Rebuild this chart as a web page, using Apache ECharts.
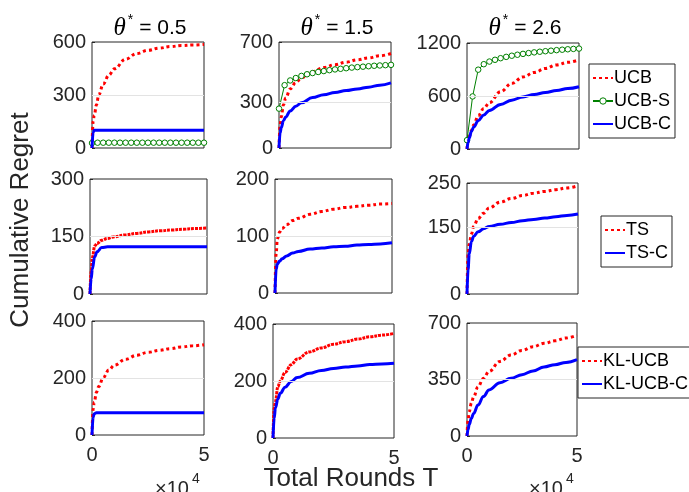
<!DOCTYPE html>
<html><head><meta charset="utf-8">
<script src="https://cdn.jsdelivr.net/npm/echarts@6/dist/echarts.min.js"></script>
<style>html,body{margin:0;padding:0;background:#fff}#c{width:689px;height:492px}</style>
</head><body><div id="c"></div>
<script>
// ---- data ----
const X = [0,500,1000,2000,3000,5000,7500,10000,15000,20000,25000,30000,35000,40000,45000,50000];
const XS = [0,2500,5000,7500,10000,12500,15000,17500,20000,22500,25000,27500,30000,32500,35000,37500,40000,42500,45000,47500,50000];
const thetas = ['0.5','1.5','2.6'];
// row 1: UCB family
const ucb1  = [0,150,185,245,300,362,412,448,503,535,553,565,574,580,583,586];
const ucbS1 = [28,30,30,30,30,30,30,30,30,30,30,30,30,30,30,30,30,30,30,30,30];
const ucbC1 = [0,88,100,100,100,100,100,100,100,100,100,100,100,100,100,100];
const ucb2  = [0,150,205,285,330,390,432,465,505,532,550,567,582,595,609,624];
const ucbS2 = [260,415,446,462,476,487,495,502,508,514,519,523,527,531,534,537,540,543,545,547,549];
const ucbC2 = [0,100,135,180,205,245,276,298,333,352,367,379,390,402,415,430];
const ucb3  = [0,90,145,210,273,377,460,525,649,743,816,867,912,952,981,1010];
const ucbS3 = [100,595,898,960,990,1010,1028,1043,1056,1067,1077,1086,1094,1101,1107,1113,1119,1124,1129,1133,1137];
const ucbC3 = [0,75,125,200,250,320,385,437,505,553,590,617,640,662,684,705];
// row 2: TS family
const ts1  = [0,60,95,125,132,140,145,149,154,158,162,165,167,169,171,172];
const tsC1 = [0,40,65,97,110,121,123,123,123,123,123,123,123,123,123,123];
const ts2  = [0,70,95,107,113,120,127,131,138,143,147,150,152,154,156,157];
const tsC2 = [0,42,51,56,60,65,70,73,77,79,81,82,84,85,86,88];
const ts3  = [0,88,112,135,152,170,182,194,207,215,222,227,231,235,239,244];
const tsC3 = [0,55,90,118,130,140,147,152,157,161,165,168,171,174,177,180];
// row 3: KL-UCB family
const kl1  = [0,90,115,150,170,201,228,245,266,280,290,297,303,309,313,317];
const klC1 = [0,62,75,78,78,78,78,78,78,78,78,78,78,78,78,78];
const kl2  = [0,105,128,180,200,230,257,277,302,316,329,338,347,355,361,367];
const klC2 = [0,70,105,137,157,178,198,212,227,237,244,249,253,258,260,262];
const kl3  = [0,100,150,205,242,305,357,400,462,502,530,553,574,590,607,625];
const klC3 = [0,40,70,110,140,192,245,285,330,357,380,403,428,442,456,473];
// y tick labels per panel
const yTicks = [
  [0,300,600],[0,300,700],[0,600,1200],
  [0,150,300],[0,100,200],[0,150,250],
  [0,200,400],[0,200,400],[0,350,700]
];

// ---- layout ----
const grids = [
  {left:92, top:42, width:112, height:106},{left:279, top:42, width:112, height:106},{left:467, top:43, width:112, height:106},
  {left:90, top:179, width:117, height:115},{left:275, top:179, width:117, height:114},{left:467, top:183, width:111, height:111},
  {left:92, top:321, width:112, height:114},{left:273, top:324, width:121, height:114},{left:467, top:323, width:110, height:113}
];
const FONT = "'Liberation Sans', Arial, Helvetica, sans-serif";
const RED = '#ff0000', BLUE = '#0000ff', GREEN = '#008000';

const pairs = (xs, ys) => ys.map((y, i) => [xs[i], y]);

const xAxes = grids.map((g, i) => ({
  type:'value', gridIndex:i, min:0, max:50000, interval:50000,
  axisLine:{show:false}, splitLine:{show:false},
  axisTick:{show:false},
  axisLabel:{show: i >= 6, fontFamily:FONT, fontSize:20, color:'#262626', margin:10,
    formatter: v => String(v/10000)}
}));
const yAxes = grids.map((g, i) => ({
  type:'value', gridIndex:i, min:0, max:yTicks[i][2],
  axisLine:{show:false}, splitLine:{show:false},
  axisTick:{show:true, inside:true, length:3, lineStyle:{color:'#262626'}, customValues:yTicks[i]},
  axisLabel:{fontFamily:FONT, fontSize:20, color:'#262626', margin:6, customValues:yTicks[i],
    formatter: v => String(v)}
}));

const series = [];
function add(name, gi, xs, ys, kind) {
  const s = {name, type:'line', xAxisIndex:gi, yAxisIndex:gi, data:pairs(xs, ys),
    smooth:0.4, smoothMonotone:'x', animation:false, z:3};
  if (kind === 'red') { s.symbol='none'; s.lineStyle={color:RED, width:3, type:[3,3]}; s.itemStyle={color:RED}; }
  if (kind === 'redsolid') { s.symbol='none'; s.lineStyle={color:RED, width:3, type:[3,1]}; s.itemStyle={color:RED}; }
  if (kind === 'blue') { s.symbol='none'; s.lineStyle={color:BLUE, width:3}; s.itemStyle={color:BLUE}; s.z=4; }
  if (kind === 'green') { s.symbol='circle'; s.symbolSize=5.5; s.smooth=false;
    s.lineStyle={color:GREEN, width:1}; s.itemStyle={color:'#ffffff', borderColor:GREEN, borderWidth:1}; }
  series.push(s);
  return s;
}
add('UCB',0,X,ucb1,'red'); add('UCB-S',0,XS,ucbS1,'green'); add('UCB-C',0,X,ucbC1,'blue');
add('UCB',1,X,ucb2,'red'); add('UCB-S',1,XS,ucbS2,'green'); add('UCB-C',1,X,ucbC2,'blue');
add('UCB',2,X,ucb3,'red'); add('UCB-S',2,XS,ucbS3,'green'); add('UCB-C',2,X,ucbC3,'blue');
add('TS',4,X,ts2,'red'); add('TS-C',4,X,tsC2,'blue');
add('TS',5,X,ts3,'red'); add('TS-C',5,X,tsC3,'blue');
add('TS',3,X,ts1,'redsolid'); add('TS-C',3,X,tsC1,'blue');
add('KL-UCB',6,X,kl1,'red'); add('KL-UCB-C',6,X,klC1,'blue');
add('KL-UCB',8,X,kl3,'red'); add('KL-UCB-C',8,X,klC3,'blue');
add('KL-UCB',7,X,kl2,'redsolid'); add('KL-UCB-C',7,X,klC2,'blue');

// middle gridline per panel from tick arrays
yTicks.forEach((t, i) => {
  series.push({type:'line', xAxisIndex:i, yAxisIndex:i, data:[], silent:true,
    markLine:{silent:true, symbol:'none', label:{show:false}, animation:false,
      lineStyle:{color:'#e3e3e3', width:1, type:'solid'}, data:[{yAxis:t[1]}]}, z:1});
});

const hid = name => ({name, itemStyle:{opacity:0}});
const legendBase = {orient:'vertical', backgroundColor:'#fff', borderColor:'#262626', borderWidth:1,
  itemWidth:20, itemHeight:8, itemGap:5, padding:[5,4,5,3],
  textStyle:{fontFamily:FONT, fontSize:18, color:'#000', padding:[0,0,0,-4]}};

const titleGraphics = thetas.map((t, c) => ({
  type:'text', x: grids[c].left + grids[c].width/2 + 2, y: 28,
  style:{text:'{t|θ}{s|*}{n| = ' + t + '}', align:'center', verticalAlign:'middle',
    rich:{t:{fontFamily:"'Liberation Serif', serif", fontStyle:'italic', fontSize:25, fill:'#000'},
          s:{fontFamily:FONT, fontSize:14, fill:'#000', padding:[0,0,16,2]},
          n:{fontFamily:FONT, fontSize:21, fill:'#000'}}}
}));
const x10 = x => [
  {type:'text', x, y:489, style:{text:'×10', fontFamily:FONT, fontSize:20, fill:'#262626', verticalAlign:'middle'}},
  {type:'text', x:x+37, y:479, style:{text:'4', fontFamily:FONT, fontSize:14, fill:'#262626', verticalAlign:'middle'}}
];

const option = {
  animation:false,
  backgroundColor:'#fff',
  grid: grids.map(g => Object.assign({show:true, borderColor:'#262626', borderWidth:1, backgroundColor:'transparent'}, g)),
  xAxis: xAxes, yAxis: yAxes, series,
  legend:[
    Object.assign({}, legendBase, {left:589, top:64, data:[hid('UCB'),
      {name:'UCB-S', itemStyle:{color:'#ffffff', borderColor:GREEN, borderWidth:1}}, hid('UCB-C')]}),
    Object.assign({}, legendBase, {left:601, top:216, data:[hid('TS'), hid('TS-C')]}),
    Object.assign({}, legendBase, {left:578, top:347, data:[hid('KL-UCB'), hid('KL-UCB-C')]})
  ],
  graphic: titleGraphics.concat([
    {type:'text', x:21, y:220, rotation:Math.PI/2,
      style:{text:'Cumulative Regret', fontFamily:FONT, fontSize:26, fill:'#262626', align:'center', verticalAlign:'middle'}},
    {type:'text', x:351, y:479,
      style:{text:'Total Rounds T', fontFamily:FONT, fontSize:26, fill:'#262626', align:'center', verticalAlign:'middle'}}
  ], x10(155), x10(529))
};
const chart = echarts.init(document.getElementById('c'), null, {renderer:'canvas'});
chart.setOption(option);
</script></body></html>
